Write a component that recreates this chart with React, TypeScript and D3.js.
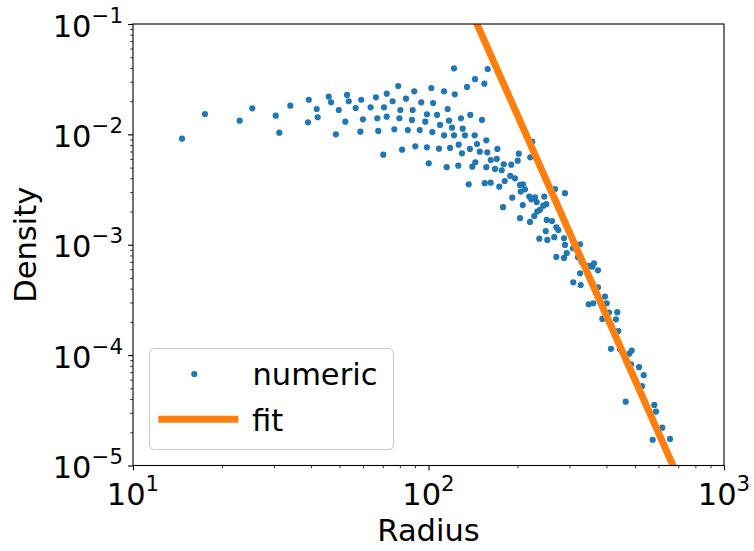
import { useEffect, useRef } from "react";
import * as d3 from "d3";

// scatter values (radius, density)
const radius = [
  14.65, 17.52, 22.96, 25.33, 30.41, 31.26, 34.07, 39.33, 39.1, 41.85, 42.17,
  122.0, 158.6, 143.7, 154.5, 135.0, 79.0, 102.2, 112.9, 122.7, 89.5, 72.2,
  53.0, 45.96, 46.8, 53.7, 59.2, 66.4, 75.6, 83.9, 94.5, 103.6, 49.7, 56.7,
  63.7, 70.7, 80.3, 88.4, 116.1, 52.3, 60.0, 67.1, 72.2, 79.7, 87.9, 98.8,
  97.5, 106.9, 109.4, 117.3, 128.8, 138.5, 151.7, 120.1, 130.5, 48.6, 58.8,
  67.6, 76.6, 85.1, 93.4, 103.0, 112.9, 122.0, 132.9, 143.3, 145.9, 156.9,
  171.0, 126.5, 138.1, 149.1, 158.1, 118.3, 108.5, 98.8, 90.2, 81.4, 70.3,
  129.8, 100.2, 115.2, 126.1, 140.7, 144.0, 156.9, 162.4, 170.2, 167.9, 136.8,
  155.0, 162.4, 173.6, 202.0, 224.5, 221.0, 176.9, 179.7, 190.6, 200.4, 189.1,
  196.2, 181.1, 204.0, 208.8, 212.1, 205.1, 219.3, 222.8, 229.3, 246.5, 192.1,
  232.4, 208.4, 244.6, 250.4, 268.0, 289.7, 178.7, 238.4, 233.4, 228.0, 204.0,
  220.5, 251.2, 261.8, 270.7, 275.0, 249.3, 266.5, 237.1, 252.4, 287.4, 289.7,
  308.3, 325.6, 293.6, 270.7, 287.4, 320.6, 329.9, 349.2, 363.1, 374.6, 325.6,
  309.0, 327.4, 374.6, 358.3, 395.7, 400.9, 348.4, 361.1, 408.1, 435.4, 431.0,
  387.5, 438.8, 414.5, 444.7, 478.1, 487.1, 484.5, 515.7, 534.9, 527.8, 464.9,
  580.8, 588.6, 591.9, 618.2, 573.6, 656.5,
];
const density = [
  0.00914, 0.0153, 0.01331, 0.01723, 0.01477, 0.01036, 0.0182, 0.0206, 0.01287,
  0.01698, 0.01429, 0.0397, 0.0391, 0.0316, 0.0288, 0.0269, 0.0274, 0.0263,
  0.02457, 0.02307, 0.02457, 0.02336, 0.02275, 0.02196, 0.01953, 0.01995,
  0.0206, 0.02168, 0.01995, 0.02106, 0.01953, 0.01925, 0.01663, 0.01734, 0.0176,
  0.0176, 0.01663, 0.01663, 0.01698, 0.01303, 0.0137, 0.014, 0.01447, 0.014,
  0.01351, 0.01521, 0.01303, 0.01499, 0.01217, 0.01331, 0.014, 0.01499, 0.01351,
  0.0115, 0.01126, 0.01002, 0.01058, 0.01074, 0.01112, 0.01096, 0.01096, 0.01051,
  0.00981, 0.00981, 0.00981, 0.00981, 0.00818, 0.00884, 0.00738, 0.00807,
  0.00738, 0.00697, 0.00688, 0.00753, 0.00742, 0.00764, 0.0078, 0.00727, 0.00655,
  0.00674, 0.00547, 0.00504, 0.0052, 0.0051, 0.00559, 0.00504, 0.00586, 0.00599,
  0.00486, 0.00353, 0.00361, 0.00365, 0.00336, 0.00669, 0.00859, 0.0062, 0.00473,
  0.00536, 0.00531, 0.00578, 0.0042, 0.004, 0.00378, 0.00348, 0.00353, 0.00318,
  0.00303, 0.00273, 0.00258, 0.00269, 0.00273, 0.00267, 0.00244, 0.00229,
  0.00226, 0.00233, 0.0032, 0.00293, 0.00219, 0.00207, 0.002, 0.00182, 0.00174,
  0.00161, 0.00168, 0.00164, 0.00144, 0.00136, 0.00133, 0.00117, 0.001136,
  0.001105, 0.001145, 0.000996, 0.00093, 0.00101, 0.000838, 0.000775, 0.000759,
  0.00077, 0.000694, 0.000643, 0.00068, 0.000587, 0.000552, 0.000457, 0.000432,
  0.000412, 0.000633, 0.000339, 0.000295, 0.000289, 0.000295, 0.000243,
  0.000245, 0.000211, 0.000213, 0.000165, 0.000114, 0.000113, 0.000103, 0.00011,
  8.27e-5, 7.77e-5, 6.58e-5, 5.23e-5, 3.79e-5, 3.54e-5, 3.08e-5, 2.18e-5, 2.2e-5,
  1.71e-5, 1.74e-5,
];

// power-law fit line, end points
const fitRadius = [140, 720];
const fitDensity = [0.128, 6.6e-6];

const xTicks = [10, 100, 1000];
const xTickExp = ["1", "2", "3"];
const yTicks = [1e-5, 1e-4, 1e-3, 1e-2, 1e-1];
const yTickExp = ["\u22125", "\u22124", "\u22123", "\u22122", "\u22121"];

const W = 754;
const H = 551;
const FONT = "DejaVu Sans, sans-serif";
const FS = 30.5;
const BLUE = "#1f77b4";
const ORANGE = "#ff7f0e";

function minorTicks(lo: number, hi: number) {
  const out: number[] = [];
  for (let e = lo; e < hi; e++)
    for (let k = 2; k <= 9; k++) out.push(k * Math.pow(10, e));
  return out;
}

export default function App() {
  const ref = useRef<SVGSVGElement | null>(null);

  useEffect(() => {
    if (!ref.current) return;
    const svg = d3.select(ref.current);
    svg.selectAll("*").remove();

    const left = 133, right = 724, top = 24, bottom = 465.5;

    const x = d3.scaleLog().domain([10, 1000]).range([left, right]);
    const y = d3.scaleLog().domain([1e-5, 1e-1]).range([bottom, top]);

    svg.append("rect").attr("width", W).attr("height", H).attr("fill", "#fff");

    svg
      .append("defs")
      .append("clipPath")
      .attr("id", "plot-clip")
      .append("rect")
      .attr("x", left)
      .attr("y", top)
      .attr("width", right - left)
      .attr("height", bottom - top);

    const plot = svg.append("g").attr("clip-path", "url(#plot-clip)");

    // points
    plot
      .selectAll("circle")
      .data(radius.map((r, i) => [r, density[i]]))
      .join("circle")
      .attr("cx", (d) => x(d[0]))
      .attr("cy", (d) => y(d[1]))
      .attr("r", 3.1)
      .attr("fill", BLUE);

    // fit
    const line = d3
      .line<number>()
      .x((r) => x(r))
      .y((_, i) => y(fitDensity[i]));
    plot
      .append("path")
      .attr("d", line(fitRadius))
      .attr("fill", "none")
      .attr("stroke", ORANGE)
      .attr("stroke-width", 7);

    // axes ticks (labels drawn by hand for the superscripts)
    const xMajor = d3.axisBottom(x).tickValues(xTicks).tickSize(4.9).tickFormat(() => "");
    const xMinor = d3.axisBottom(x).tickValues(minorTicks(1, 3)).tickSize(2.8).tickFormat(() => "");
    const yMajor = d3.axisLeft(y).tickValues(yTicks).tickSize(4.9).tickFormat(() => "");
    const yMinor = d3.axisLeft(y).tickValues(minorTicks(-5, -1)).tickSize(2.8).tickFormat(() => "");

    const gx = svg.append("g").attr("transform", `translate(0,${bottom})`);
    gx.append("g").call(xMajor).selectAll("line").attr("stroke-width", 1.1);
    gx.append("g").call(xMinor).selectAll("line").attr("stroke-width", 0.8);
    const gy = svg.append("g").attr("transform", `translate(${left},0)`);
    gy.append("g").call(yMajor).selectAll("line").attr("stroke-width", 1.1);
    gy.append("g").call(yMinor).selectAll("line").attr("stroke-width", 0.8);
    svg.selectAll(".domain").remove();

    // frame
    svg
      .append("rect")
      .attr("x", left)
      .attr("y", top)
      .attr("width", right - left)
      .attr("height", bottom - top)
      .attr("fill", "none")
      .attr("stroke", "#000")
      .attr("stroke-width", 1.1);

    const txt = svg.append("g").attr("font-family", FONT).attr("fill", "#000");

    xTicks.forEach((v, i) => {
      const t = txt
        .append("text")
        .attr("x", x(v))
        .attr("y", 505)
        .attr("text-anchor", "middle")
        .attr("font-size", FS)
        .text("10");
      t.append("tspan").attr("dy", -14).attr("font-size", FS * 0.7).text(xTickExp[i]);
    });

    yTicks.forEach((v, i) => {
      const t = txt
        .append("text")
        .attr("x", 123)
        .attr("y", y(v) + 12.5)
        .attr("text-anchor", "end")
        .attr("font-size", FS)
        .text("10");
      t.append("tspan").attr("dy", -14).attr("font-size", FS * 0.7).text(yTickExp[i]);
    });

    txt
      .append("text")
      .attr("x", (left + right) / 2)
      .attr("y", 541)
      .attr("text-anchor", "middle")
      .attr("font-size", FS)
      .text("Radius");

    txt
      .append("text")
      .attr("transform", `translate(36,${(top + bottom) / 2}) rotate(-90)`)
      .attr("text-anchor", "middle")
      .attr("font-size", FS)
      .text("Density");

    // legend
    const lg = svg.append("g");
    lg.append("rect")
      .attr("x", 149.5)
      .attr("y", 348.5)
      .attr("width", 244)
      .attr("height", 101)
      .attr("rx", 5)
      .attr("fill", "#fff")
      .attr("fill-opacity", 0.8)
      .attr("stroke", "#cccccc")
      .attr("stroke-width", 1.1);
    lg.append("circle").attr("cx", 194.3).attr("cy", 374).attr("r", 3.1).attr("fill", BLUE);
    lg.append("line")
      .attr("x1", 158.3)
      .attr("x2", 238.3)
      .attr("y1", 419.3)
      .attr("y2", 419.3)
      .attr("stroke", ORANGE)
      .attr("stroke-width", 7);
    lg.append("text")
      .attr("x", 252.5)
      .attr("y", 385)
      .attr("font-family", FONT)
      .attr("font-size", FS)
      .text("numeric");
    lg.append("text")
      .attr("x", 252)
      .attr("y", 430.5)
      .attr("font-family", FONT)
      .attr("font-size", FS)
      .text("fit");
  }, []);

  return (
    <svg
      ref={ref}
      width={W}
      height={H}
      style={{ position: "absolute", left: 0, top: 0 }}
    />
  );
}
